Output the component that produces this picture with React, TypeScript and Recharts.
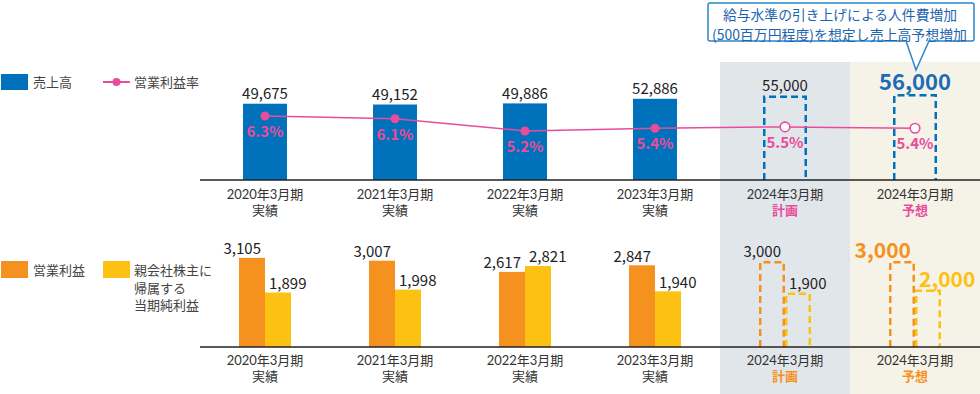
import React from 'react';
import { ComposedChart, BarChart, Bar, Line, XAxis, YAxis, LabelList } from 'recharts';

// 期 (x categories) and their kind
const categories = ['2020年3月期', '2021年3月期', '2022年3月期', '2023年3月期', '2024年3月期', '2024年3月期'];
const periodKinds = ['実績', '実績', '実績', '実績', '計画', '予想'];

// 売上高 (百万円) and 営業利益率 (%)
const sales = [49675, 49152, 49886, 52886, 55000, 56000];
const opMarginRate = [6.3, 6.1, 5.2, 5.4, 5.5, 5.4];

// 営業利益 / 親会社株主に帰属する当期純利益 (百万円)
const opProfit = [3105, 3007, 2617, 2847, 3000, 3000];
const netIncome = [1899, 1998, 2821, 1940, 1900, 2000];

const calloutLines = ['給与水準の引き上げによる人件費増加', '(500百万円程度)を想定し売上高予想増加'];

const FONT = "'Noto Sans CJK JP', 'Noto Sans', sans-serif";
// tighter line metrics for stacked 2-line labels
const TIGHT_FONT = "Lato, 'Noto Sans CJK JP', sans-serif";
const BLUE = '#0071bb';
const PINK = '#e94c9b';
const ORANGE = '#f5921f';
const YELLOW = '#fcc113';
const TEXT = '#333';

const topData = categories.map((name, i) => ({
    name,
    kind: periodKinds[i],
    sales: sales[i],
    rate: opMarginRate[i],
}));

const bottomData = categories.map((name, i) => ({
    name,
    kind: periodKinds[i],
    opProfit: opProfit[i],
    netIncome: netIncome[i],
}));

const isPlan = (kind: string) => kind !== '実績';

// two-line tick: period + 実績/計画/予想
const makeTick = (accent: string, l1: number, l2: number) => (props: any) => {
    const { x, y, payload } = props;
    const kind = periodKinds[payload.index];
    const plan = isPlan(kind);
    return (
        <g>
            <text x={x} y={y + l1} textAnchor="middle" fontSize={13} fill={TEXT} fontFamily={TIGHT_FONT}>
                {payload.value}
            </text>
            <text
                x={x}
                y={y + l2}
                textAnchor="middle"
                fontSize={13}
                fill={plan ? accent : TEXT}
                fontWeight={plan ? 700 : 400}
                fontFamily={TIGHT_FONT}
            >
                {kind}
            </text>
        </g>
    );
};

const makeBarShape = (color: string) => (props: any) => {
    const { x, y, width, height, payload } = props;
    if (!isPlan(payload.kind)) {
        return <rect x={x} y={y} width={width} height={height} fill={color} />;
    }
    const s = 1.25;
    return (
        <path
            d={`M${x + s},${y + height} V${y + s} H${x + width - s} V${y + height}`}
            fill="none"
            stroke={color}
            strokeWidth={2.5}
            strokeDasharray="7 4"
        />
    );
};

const RateDot = (props: any) => {
    const { cx, cy, payload, index } = props;
    const open = isPlan(payload.kind);
    return (
        <circle
            key={`dot-${index}`}
            cx={cx}
            cy={cy}
            r={open ? 4.8 : 4.5}
            fill={open ? '#fff' : PINK}
            stroke={PINK}
            strokeWidth={open ? 1.6 : 0}
        />
    );
};

const salesLabel = (props: any) => {
    const { x, y, width, value, index } = props;
    const big = periodKinds[index] === '予想';
    return (
        <text
            x={x + width / 2}
            y={y - 4.5}
            textAnchor="middle"
            fontSize={big ? 22 : 15}
            fontWeight={big ? 700 : 400}
            fill={big ? '#1a6cb6' : '#222'}
            fontFamily={FONT}
        >
            {value.toLocaleString('en-US')}
        </text>
    );
};

const rateLabel = (props: any) => {
    const { x, y, value } = props;
    return (
        <text x={x} y={y + 21} textAnchor="middle" fontSize={15} fontWeight={700} fill={PINK} fontFamily={FONT}>
            {value.toFixed(1)}%
        </text>
    );
};

const makeBottomLabel = (color: string, side: 'left' | 'right') => (props: any) => {
    const { x, y, width, value, index } = props;
    const big = periodKinds[index] === '予想';
    return (
        <text
            x={side === 'left' ? x + width - 4 : x + 4}
            y={y - (big ? 3 : 3.7)}
            textAnchor={side === 'left' ? 'end' : 'start'}
            fontSize={big ? 21 : 15}
            fontWeight={big ? 700 : 400}
            fill={big ? color : '#222'}
            fontFamily={FONT}
        >
            {value.toLocaleString('en-US')}
        </text>
    );
};

export default function App() {
    return (
        <div style={{ position: 'relative', width: 980, height: 394, background: '#fff', fontFamily: FONT, overflow: 'hidden' }}>
            <style>{`body{margin:0}`}</style>

            {/* period backgrounds */}
            <div style={{ position: 'absolute', left: 720, top: 62, width: 130, height: 332, background: '#e1e6eb' }} />
            <div style={{ position: 'absolute', left: 850, top: 62, width: 130, height: 332, background: '#f5f3e7' }} />

            {/* 売上高 / 営業利益率 */}
            <div style={{ position: 'absolute', left: 200, top: 0 }}>
                <ComposedChart width={780} height={222} data={topData} margin={{ top: 61, right: 0, bottom: 0, left: 0 }}>
                    <XAxis
                        dataKey="name"
                        height={42}
                        tickLine={false}
                        tickSize={0}
                        tickMargin={0}
                        interval={0}
                        axisLine={{ stroke: '#222', strokeWidth: 1.5 }}
                        tick={makeTick(PINK, 18.8, 35.3)}
                    />
                    <YAxis yAxisId="left" hide domain={[0, 77500]} />
                    <YAxis yAxisId="right" orientation="right" hide domain={[1.594, 10.344]} />
                    <Bar
                        yAxisId="left"
                        dataKey="sales"
                        barSize={44}
                        shape={makeBarShape(BLUE)}
                        isAnimationActive={false}
                    >
                        <LabelList dataKey="sales" content={salesLabel} />
                    </Bar>
                    <Line
                        yAxisId="right"
                        dataKey="rate"
                        stroke={PINK}
                        strokeWidth={1.5}
                        dot={RateDot}
                        activeDot={false}
                        isAnimationActive={false}
                    >
                        <LabelList dataKey="rate" content={rateLabel} />
                    </Line>
                </ComposedChart>
            </div>

            {/* 営業利益 / 当期純利益 */}
            <div style={{ position: 'absolute', left: 200, top: 222 }}>
                <BarChart width={780} height={172} data={bottomData} barGap={0} margin={{ top: 18, right: 0, bottom: 0, left: 0 }}>
                    <XAxis
                        dataKey="name"
                        height={47}
                        tickLine={false}
                        tickSize={0}
                        tickMargin={0}
                        interval={0}
                        axisLine={{ stroke: '#222', strokeWidth: 1.5 }}
                        tick={makeTick(ORANGE, 17.5, 34)}
                    />
                    <YAxis hide domain={[0, 3728]} />
                    <Bar dataKey="opProfit" barSize={26} shape={makeBarShape(ORANGE)} isAnimationActive={false}>
                        <LabelList dataKey="opProfit" content={makeBottomLabel(ORANGE, 'left')} />
                    </Bar>
                    <Bar dataKey="netIncome" barSize={26} shape={makeBarShape(YELLOW)} isAnimationActive={false}>
                        <LabelList dataKey="netIncome" content={makeBottomLabel(YELLOW, 'right')} />
                    </Bar>
                </BarChart>
            </div>

            {/* legends + callout */}
            <svg width={980} height={394} style={{ position: 'absolute', left: 0, top: 0, pointerEvents: 'none' }}>
                <g fontFamily={FONT} fontSize={13} fill="#444">
                    <rect x={1} y={74} width={27} height={16} fill={BLUE} />
                    <text x={33} y={86.5}>売上高</text>
                    <line x1={103} y1={82} x2={130} y2={82} stroke={PINK} strokeWidth={2} />
                    <circle cx={116.5} cy={82} r={4} fill={PINK} />
                    <text x={134} y={86.5}>営業利益率</text>

                    <rect x={1} y={261} width={27} height={17} fill={ORANGE} />
                    <text x={33} y={274.5}>営業利益</text>
                    <rect x={103} y={261} width={27} height={17} fill={YELLOW} />
                    <text x={134} y={274.5} fontFamily={TIGHT_FONT}>親会社株主に</text>
                    <text x={134} y={292.5} fontFamily={TIGHT_FONT}>帰属する</text>
                    <text x={134} y={309.5} fontFamily={TIGHT_FONT}>当期純利益</text>
                </g>

                <path
                    d="M710,3 H972 Q974,3 974,5 V39 Q974,41 972,41 H929 L916,70 L906,41 H710 Q708,41 708,39 V5 Q708,3 710,3 Z"
                    fill="#fff"
                    stroke="#2b86c9"
                    strokeWidth={1.5}
                />
                {calloutLines.map((line, i) => (
                    <text
                        key={line}
                        x={i === 0 ? 723 : 712}
                        y={20 + i * 20}
                        textLength={i === 0 ? 234 : 255}
                        lengthAdjust="spacingAndGlyphs"
                        fontSize={13.8}
                        fill="#1d63ad"
                        fontFamily={FONT}
                    >
                        {line}
                    </text>
                ))}
            </svg>
        </div>
    );
}
